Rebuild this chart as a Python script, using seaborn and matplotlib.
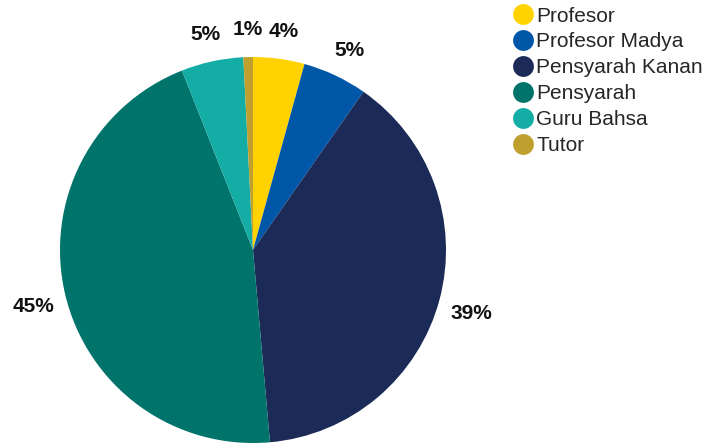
import matplotlib
matplotlib.use("Agg")
import matplotlib.pyplot as plt
from matplotlib.lines import Line2D
import seaborn as sns

# data
categories = ["Profesor", "Profesor Madya", "Pensyarah Kanan", "Pensyarah", "Guru Bahsa", "Tutor"]
shares = [4.3, 5.4, 38.9, 45.4, 5.2, 0.8]
colors = ["#FFD200", "#0057A8", "#1B2A56", "#00736A", "#14ADA5", "#BFA02E"]

sns.set_theme(style="white")
plt.rcParams["font.family"] = ["Liberation Sans", "DejaVu Sans"]

fig = plt.figure(figsize=(7.11, 4.45), dpi=100)
ax = fig.add_axes([60 / 711, 2 / 445, 386 / 711, 386 / 445])

wedges, texts, autotexts = ax.pie(
    shares, colors=sns.color_palette(colors), startangle=90, counterclock=False,
    autopct="%1.0f%%", pctdistance=1.17, radius=1.0,
    wedgeprops=dict(linewidth=0),
    textprops=dict(fontsize=15, fontweight="bold", color="#111111"),
)
# percentages sit a touch lower in the original
for t in autotexts:
    x, y = t.get_position()
    t.set_position((x, y - 0.025))
ax.set_xlim(-1, 1); ax.set_ylim(-1, 1)
ax.axis("off")

handles = [Line2D([0], [0], marker="o", linestyle="", markersize=15,
                  markerfacecolor=c, markeredgewidth=0) for c in colors]
fig.legend(handles, categories, loc="upper left", bbox_to_anchor=(502 / 711, 1.004),
           frameon=False, fontsize=15, handletextpad=0.05, labelspacing=0.33,
           handlelength=1.2, borderaxespad=0)

fig.savefig("out.png", dpi=100)
